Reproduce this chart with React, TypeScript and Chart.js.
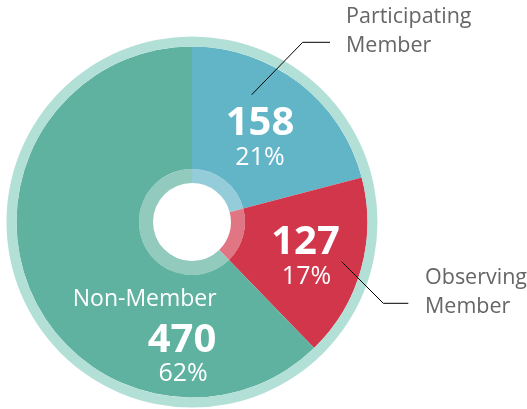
import React, { useEffect, useRef } from "react";
import { Chart, registerables } from "chart.js";

Chart.register(...registerables);

// ---- data ----
const categories = ["Participating Member", "Observing Member", "Non-Member"];
const values = [158, 127, 470];

// ---- styles ----
const sliceColors = ["#62B5C7", "#D1364A", "#5FB1A0"];
const outerRingColor = "#B2DFD6";
const innerRingAlpha = 0.32;
const textGrey = "#666666";
const FONT = "'Open Sans', 'Noto Sans', sans-serif";

// label layout (polar: degrees clockwise from top, radius in px from chart centre)
const valueAnchors = [
  { angle: 38.0, r: 110.4 },
  { angle: 105.9, r: 118.0 },
  { angle: 184.4, r: 130.1 },
];

function blendWhite(hex: string, a: number): string {
  const n = parseInt(hex.slice(1), 16);
  const r = (n >> 16) & 255, g = (n >> 8) & 255, b = n & 255;
  const m = (c: number) => Math.round(c + (255 - c) * a);
  return `rgb(${m(r)}, ${m(g)}, ${m(b)})`;
}

const labelPlugin = {
  id: "sliceLabels",
  afterDatasetsDraw(chart: any) {
    const ctx = chart.ctx as CanvasRenderingContext2D;
    const meta = chart.getDatasetMeta(1);
    const arc0 = meta.data[0] as any;
    const cx = arc0.x, cy = arc0.y;
    const total = values.reduce((a, b) => a + b, 0);
    ctx.save();
    ctx.textBaseline = "alphabetic";
    ctx.textAlign = "center";
    ctx.fillStyle = "#ffffff";
    values.forEach((v, i) => {
      const p = valueAnchors[i];
      const a = (p.angle * Math.PI) / 180;
      const x = cx + p.r * Math.sin(a);
      const y = cy - p.r * Math.cos(a);
      ctx.font = `bold 40px ${FONT}`;
      ctx.fillText(String(v), x, y);
      ctx.font = `25px ${FONT}`;
      ctx.fillText(Math.round((v / total) * 100) + "%", x + (i === 0 ? 0 : 1), y + 29.5);
      if (i === 2) {
        ctx.font = `23px ${FONT}`;
        ctx.fillText(categories[i], x - 37.3, y - 45.7);
      }
    });

    // outside labels with leader lines
    ctx.strokeStyle = "#000000";
    ctx.lineWidth = 1;
    const leaders = [
      { pts: [[59.7, -127.3], [110.7, -179.7], [138, -179.7]], text: [154, -199.3] },
      { pts: [[149.7, 39.7], [191.3, 81.3], [216.3, 81.3]], text: [233, 62.3] },
    ];
    leaders.forEach((L, i) => {
      ctx.beginPath();
      L.pts.forEach(([dx, dy], k) => {
        if (k === 0) ctx.moveTo(cx + dx, cy + dy);
        else ctx.lineTo(cx + dx, cy + dy);
      });
      ctx.stroke();
      const words = categories[i].split(" ");
      ctx.font = `21.5px ${FONT}`;
      ctx.fillStyle = textGrey;
      ctx.textAlign = "left";
      words.forEach((w, k) => {
        ctx.fillText(w, cx + L.text[0], cy + L.text[1] + k * 29);
      });
    });
    ctx.restore();
  },
};

export default function App() {
  const ref = useRef<HTMLCanvasElement | null>(null);
  useEffect(() => {
    if (!ref.current) return;
    const chart = new Chart(ref.current, {
      type: "doughnut",
      data: {
        labels: categories,
        datasets: [
          {
            data: [1],
            backgroundColor: [outerRingColor],
            borderWidth: 0,
            weight: 10,
          } as any,
          {
            data: values,
            backgroundColor: sliceColors,
            borderWidth: 0,
            weight: 122.5,
          } as any,
          {
            data: values,
            backgroundColor: sliceColors.map((c) => blendWhite(c, innerRingAlpha)),
            borderWidth: 0,
            weight: 14,
          } as any,
        ],
      },
      options: {
        responsive: false,
        animation: false,
        events: [],
        cutout: 39,
        rotation: 0,
        layout: { padding: { left: 6.5, right: 149.5, top: 36.5, bottom: 1.5 } },
        plugins: {
          legend: { display: false },
          tooltip: { enabled: false },
        },
        elements: { arc: { borderWidth: 0, offset: 0, hoverOffset: 0 } as any },
      } as any,
      plugins: [labelPlugin],
    });
    return () => chart.destroy();
  }, []);
  return (
    <div style={{ position: "absolute", left: 0, top: 0, width: 527, height: 409, background: "#fff" }}>
      <canvas ref={ref} width={527} height={409} style={{ display: "block", width: 527, height: 409 }} />
    </div>
  );
}
